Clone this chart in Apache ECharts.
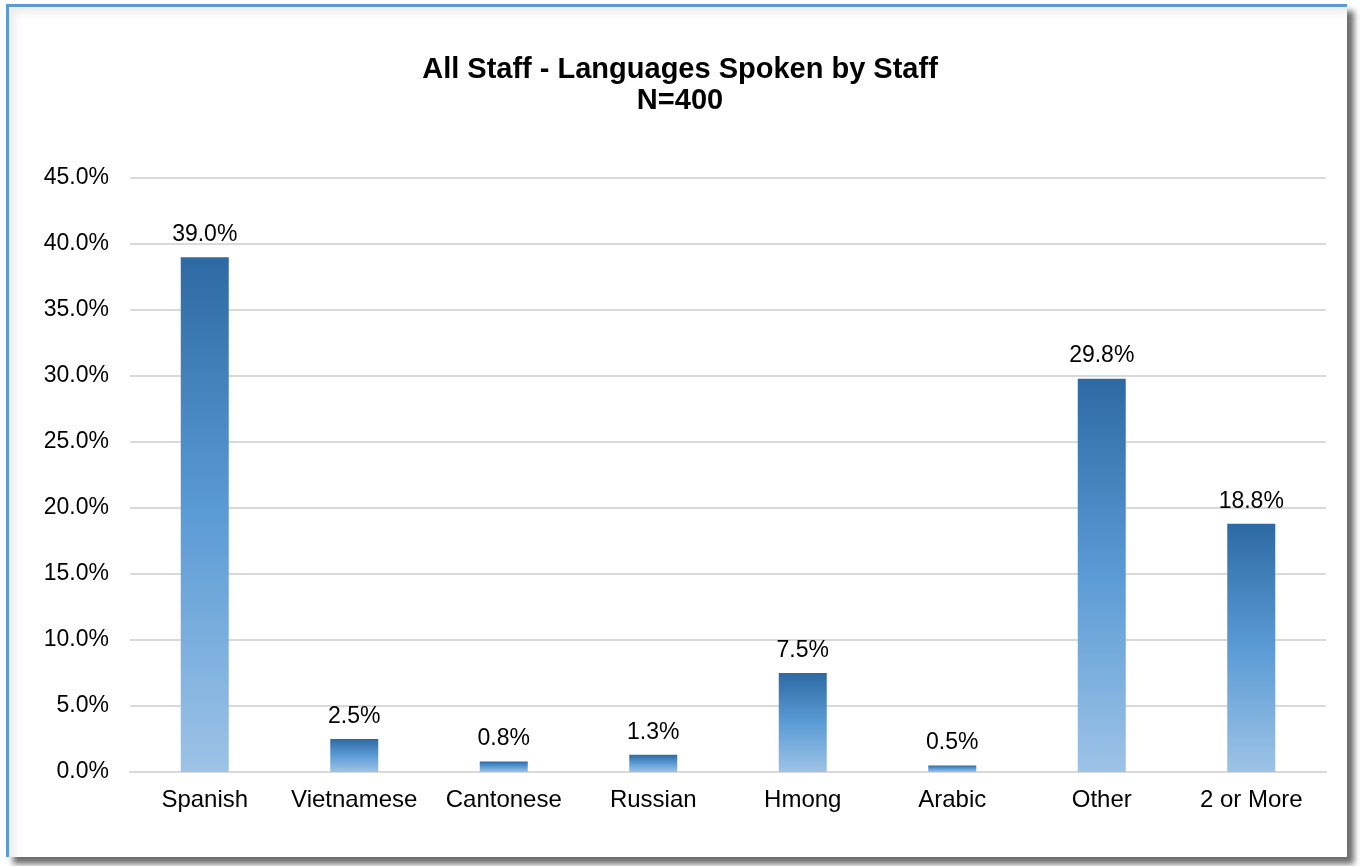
<!DOCTYPE html>
<html>
<head>
<meta charset="utf-8">
<script src="https://cdn.jsdelivr.net/npm/echarts@6/dist/echarts.min.js"></script>
<style>
  html, body { margin: 0; padding: 0; background: #ffffff; }
  body { width: 1360px; height: 866px; position: relative; overflow: hidden; }
  #frame {
    position: absolute; left: 6px; top: 4px; width: 1338px; height: 850px;
    border-top: 3px solid #5b9bd5; border-left: 3px solid #5b9bd5;
    box-shadow: 7px 7px 6px rgba(60,60,60,0.75), inset 6px 6px 8px rgba(0,0,0,0.08);
    background: #ffffff;
  }
  #chart { position: absolute; left: 0; top: 0; width: 1360px; height: 866px; }
</style>
</head>
<body>
<div id="frame"></div>
<div id="chart"></div>
<script>
// Share of staff by language spoken (percent)
const categories = ['Spanish', 'Vietnamese', 'Cantonese', 'Russian', 'Hmong', 'Arabic', 'Other', '2 or More'];
const shares = [39.0, 2.5, 0.8, 1.3, 7.5, 0.5, 29.8, 18.8];
const titleLines = ['All Staff - Languages Spoken by Staff', 'N=400'];

const chart = echarts.init(document.getElementById('chart'), null, { renderer: 'canvas' });

const barFill = new echarts.graphic.LinearGradient(0, 0, 0, 1, [
  { offset: 0, color: '#2d6aa3' },
  { offset: 0.5, color: '#5b9bd5' },
  { offset: 1, color: '#9dc3e6' }
]);

const pct = v => v.toFixed(1) + '%';

chart.setOption({
  backgroundColor: 'transparent',
  animation: false,
  textStyle: { fontFamily: 'Liberation Sans, Arial, sans-serif' },
  title: {
    text: titleLines.join('\n'),
    left: 'center',
    top: 49,
    textStyle: { fontSize: 29, fontWeight: 'bold', color: '#000000', lineHeight: 31 }
  },
  grid: { left: 130, right: 34, top: 178, bottom: 94, containLabel: false },
  xAxis: {
    type: 'category',
    data: categories,
    axisLine: { show: true, lineStyle: { color: '#d9d9d9', width: 2 } },
    axisTick: { show: false },
    axisLabel: { color: '#000000', fontSize: 24, margin: 16, interval: 0, hideOverlap: false }
  },
  yAxis: {
    type: 'value',
    min: 0,
    max: 45,
    interval: 5,
    axisLine: { show: false },
    axisTick: { show: false },
    splitLine: { lineStyle: { color: '#d9d9d9', width: 2 } },
    axisLabel: { color: '#000000', fontSize: 23, margin: 21, formatter: pct }
  },
  series: [{
    type: 'bar',
    data: shares,
    barWidth: 48,
    itemStyle: { color: barFill },
    label: {
      show: true,
      position: 'top',
      distance: 11,
      color: '#000000',
      fontSize: 23,
      formatter: p => pct(p.value)
    }
  }]
});
</script>
</body>
</html>
